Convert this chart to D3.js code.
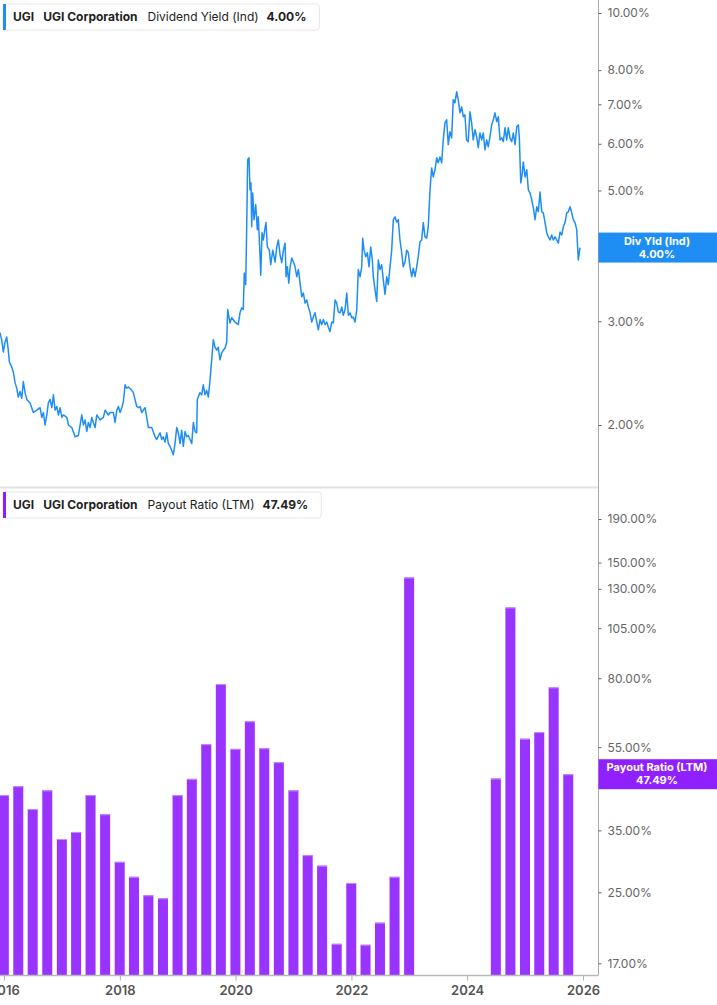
<!DOCTYPE html>
<html><head><meta charset="utf-8">
<script src="https://cdn.jsdelivr.net/npm/d3@7"></script>
<style>
html,body{margin:0;padding:0;background:#fff;}
svg{display:block;font-family:Inter,"Noto Sans",sans-serif;}
</style></head>
<body><svg id="c" width="717" height="1005"></svg>
<script>
// ---- data ----
const yieldT = [2015.931,2015.960,2015.988,2016.017,2016.047,2016.074,2016.092,2016.133,2016.161,2016.190,2016.219,2016.247,2016.276,2016.306,2016.333,2016.363,2016.392,2016.449,2016.506,2016.565,2016.622,2016.651,2016.679,2016.708,2016.738,2016.765,2016.795,2016.824,2016.852,2016.881,2016.910,2016.938,2016.967,2016.997,2017.024,2017.083,2017.111,2017.169,2017.226,2017.283,2017.342,2017.370,2017.399,2017.428,2017.456,2017.485,2017.515,2017.542,2017.572,2017.601,2017.658,2017.715,2017.745,2017.801,2017.831,2017.888,2017.917,2017.947,2017.974,2018.004,2018.033,2018.061,2018.090,2018.119,2018.147,2018.206,2018.233,2018.292,2018.320,2018.349,2018.378,2018.435,2018.465,2018.492,2018.551,2018.608,2018.637,2018.694,2018.724,2018.751,2018.781,2018.810,2018.838,2018.867,2018.924,2018.953,2018.983,2019.010,2019.040,2019.069,2019.097,2019.126,2019.156,2019.183,2019.213,2019.242,2019.270,2019.299,2019.328,2019.339,2019.385,2019.415,2019.442,2019.472,2019.501,2019.529,2019.558,2019.587,2019.615,2019.644,2019.674,2019.701,2019.731,2019.760,2019.788,2019.817,2019.846,2019.864,2019.903,2019.933,2019.990,2020.047,2020.076,2020.105,2020.133,2020.150,2020.175,2020.192,2020.209,2020.232,2020.249,2020.266,2020.278,2020.295,2020.318,2020.347,2020.375,2020.392,2020.422,2020.434,2020.456,2020.479,2020.508,2020.525,2020.548,2020.582,2020.606,2020.641,2020.681,2020.710,2020.738,2020.767,2020.796,2020.824,2020.853,2020.871,2020.893,2020.917,2020.940,2020.969,2020.997,2021.026,2021.055,2021.083,2021.112,2021.142,2021.169,2021.199,2021.228,2021.256,2021.285,2021.314,2021.342,2021.371,2021.401,2021.428,2021.458,2021.487,2021.515,2021.544,2021.573,2021.601,2021.630,2021.660,2021.687,2021.717,2021.746,2021.774,2021.803,2021.833,2021.860,2021.890,2021.919,2021.947,2021.976,2022.005,2022.033,2022.062,2022.092,2022.119,2022.149,2022.178,2022.195,2022.218,2022.247,2022.275,2022.304,2022.333,2022.361,2022.378,2022.408,2022.437,2022.465,2022.494,2022.523,2022.551,2022.580,2022.610,2022.637,2022.667,2022.696,2022.724,2022.753,2022.782,2022.810,2022.839,2022.869,2022.896,2022.926,2022.955,2022.983,2023.012,2023.042,2023.069,2023.099,2023.128,2023.155,2023.185,2023.214,2023.242,2023.271,2023.301,2023.328,2023.358,2023.387,2023.415,2023.444,2023.473,2023.501,2023.530,2023.560,2023.587,2023.617,2023.646,2023.674,2023.703,2023.732,2023.760,2023.789,2023.819,2023.846,2023.876,2023.905,2023.933,2023.962,2023.991,2024.019,2024.048,2024.078,2024.105,2024.135,2024.164,2024.192,2024.221,2024.251,2024.278,2024.307,2024.337,2024.364,2024.394,2024.423,2024.451,2024.480,2024.510,2024.537,2024.567,2024.596,2024.624,2024.653,2024.682,2024.710,2024.739,2024.769,2024.796,2024.826,2024.855,2024.883,2024.900,2024.924,2024.947,2024.969,2024.998,2025.028,2025.055,2025.085,2025.114,2025.142,2025.171,2025.200,2025.228,2025.257,2025.287,2025.314,2025.344,2025.373,2025.401,2025.430,2025.459,2025.487,2025.516,2025.546,2025.573,2025.603,2025.632,2025.660,2025.689,2025.719,2025.746,2025.776,2025.805,2025.832,2025.862,2025.891,2025.919,2025.948];
const yieldV = [2.87,2.79,2.66,2.76,2.82,2.68,2.56,2.51,2.46,2.36,2.31,2.23,2.28,2.22,2.37,2.27,2.21,2.18,2.10,2.12,2.14,2.06,2.10,2.00,2.08,2.18,2.21,2.14,2.25,2.12,2.15,2.08,2.14,2.06,2.08,2.06,2.00,1.98,1.91,1.92,2.08,2.00,2.04,1.95,2.02,1.98,2.06,2.02,1.98,2.08,2.04,2.06,2.12,2.08,2.10,2.10,2.02,2.12,2.15,2.10,2.14,2.19,2.34,2.31,2.32,2.29,2.27,2.15,2.14,2.15,2.10,2.14,2.06,1.98,1.98,1.91,1.89,1.94,1.89,1.91,1.87,1.94,1.86,1.84,1.78,1.86,1.98,1.94,1.86,1.96,1.84,1.95,1.91,1.92,1.89,1.86,2.02,1.95,1.94,2.21,2.27,2.25,2.34,2.25,2.29,2.23,2.38,2.58,2.79,2.71,2.68,2.71,2.58,2.65,2.68,2.70,2.76,3.14,2.98,3.04,2.99,2.96,3.10,3.16,3.14,3.62,3.46,4.34,5.64,5.68,5.01,5.15,4.34,4.95,4.46,4.73,4.29,4.51,3.86,3.59,4.24,4.12,4.32,4.41,4.01,3.96,3.74,3.96,3.78,4.01,4.12,3.89,3.77,3.96,4.07,3.57,3.71,3.48,3.71,3.84,3.78,3.71,3.57,3.67,3.48,3.30,3.35,3.22,3.26,3.17,3.10,2.99,3.05,3.10,2.99,2.90,3.02,2.96,3.02,2.96,2.99,2.93,2.88,2.99,2.98,3.26,3.22,3.11,3.10,3.17,3.07,3.14,3.35,3.07,3.10,3.04,3.05,2.99,3.14,3.67,3.57,3.71,4.15,3.96,3.86,3.92,3.71,4.01,3.81,3.57,3.39,3.24,3.81,3.67,3.74,3.53,3.33,3.57,3.46,3.71,3.96,4.46,4.51,4.42,4.46,4.12,3.92,3.71,3.78,3.96,3.92,3.71,3.57,3.69,3.57,3.71,3.86,4.09,4.12,4.41,4.17,4.15,4.34,5.01,5.46,5.27,5.42,5.68,5.57,5.70,5.57,6.09,6.51,6.59,5.98,6.29,6.14,7.13,7.04,7.35,7.13,6.77,6.93,6.67,6.72,6.09,6.05,6.80,6.51,6.09,6.34,6.17,5.91,6.26,6.09,6.26,5.86,6.09,5.93,6.17,6.46,6.59,6.77,6.54,6.67,6.09,6.14,6.05,6.39,6.09,6.39,6.14,6.05,6.26,5.98,6.41,6.46,6.14,5.15,5.32,5.59,5.27,5.42,5.01,4.95,4.82,4.67,4.46,4.69,4.60,4.97,4.60,4.58,4.41,4.24,4.17,4.12,4.20,4.12,4.17,4.12,4.07,4.25,4.20,4.34,4.41,4.58,4.60,4.69,4.58,4.46,4.41,4.29,3.81,4.00];

const payoutDates = ["2015-12-31","2016-03-31","2016-06-30","2016-09-30","2016-12-31","2017-03-31","2017-06-30","2017-09-30","2017-12-31","2018-03-31","2018-06-30","2018-09-30","2018-12-31","2019-03-31","2019-06-30","2019-09-30","2019-12-31","2020-03-31","2020-06-30","2020-09-30","2020-12-31","2021-03-31","2021-06-30","2021-09-30","2021-12-31","2022-03-31","2022-06-30","2022-09-30","2022-12-31","2023-03-31","2023-06-30","2023-09-30","2023-12-31","2024-03-31","2024-06-30","2024-09-30","2024-12-31","2025-03-31","2025-06-30","2025-09-30"];
const payoutV = [42.4,44.5,39.3,43.5,33.4,34.7,42.4,38.2,29.5,27.2,24.6,24.2,42.4,46.3,55.9,77.5,54.5,63.3,54.7,50.7,43.5,30.6,28.9,18.9,26.3,18.8,21.2,27.2,138.3,null,null,null,null,null,46.4,117.5,57.6,59.7,76.1,47.49];

const yieldTicks = [2,3,4,5,6,7,8,10];
const payoutTicks = [17,25,35,45,55,80,105,130,150,190];
const yearTicks = [2016,2018,2020,2022,2024,2026];

const lastYield = 4.00, lastPayout = 47.49;

// ---- layout ----
const W = 717, plotR = 598;
const topY0 = 0, topY1 = 487, botY0 = 489, botY1 = 975;
const blue = "#1e8ef5", purple = "#9933ff";

const svg = d3.select("#c");
const x = d3.scaleTime().domain([new Date(Date.UTC(2016,0,1)), new Date(Date.UTC(2026,0,1))]).range([4, 583]);
const yTop = d3.scaleLog().domain([2,10]).range([425,13]);
const yBot = d3.scaleLog().domain([17,190]).range([963.3,519]);

function decToDate(t){
  const y = Math.floor(t);
  const a = Date.UTC(y,0,1), b = Date.UTC(y+1,0,1);
  return new Date(a + (t-y)*(b-a));
}

const defs = svg.append("defs");
defs.append("clipPath").attr("id","clipTop").append("rect").attr("x",0).attr("y",topY0).attr("width",plotR).attr("height",topY1-topY0);
defs.append("clipPath").attr("id","clipBot").append("rect").attr("x",0).attr("y",botY0).attr("width",plotR).attr("height",botY1-botY0);

// separator band
svg.append("line").attr("x1",0).attr("x2",plotR).attr("y1",487.5).attr("y2",487.5).attr("stroke","#e2e2e2").attr("stroke-width",2);

// line
const lineData = yieldT.map((t,i)=>({d:decToDate(t), v:yieldV[i]}));
svg.append("g").attr("clip-path","url(#clipTop)").append("path")
  .datum(lineData)
  .attr("fill","none").attr("stroke",blue).attr("stroke-width",1.5).attr("stroke-linejoin","round")
  .attr("d", d3.line().x(d=>x(d.d)).y(d=>yTop(d.v)));

// bars
const parse = d3.utcParse("%Y-%m-%d");
const barData = payoutDates.map((s,i)=>({d:parse(s), v:payoutV[i]})).filter(d=>d.v!=null);
const bw = 10;
const gb = svg.append("g").attr("clip-path","url(#clipBot)");
gb.selectAll("rect.bar").data(barData).enter().append("rect").attr("class","bar")
  .attr("x",d=>x(d.d)-bw/2).attr("width",bw)
  .attr("y",d=>yBot(d.v)).attr("height",d=>botY1-yBot(d.v))
  .attr("fill",purple);
gb.selectAll("rect.cap").data(barData).enter().append("rect").attr("class","cap")
  .attr("x",d=>x(d.d)-bw/2).attr("width",bw)
  .attr("y",d=>yBot(d.v)).attr("height",1)
  .attr("fill","#c38cff");

// axes frame
svg.append("line").attr("x1",plotR+0.5).attr("x2",plotR+0.5).attr("y1",0).attr("y2",botY1).attr("stroke","#a8a8a8").attr("stroke-width",1);
svg.append("line").attr("x1",0).attr("x2",plotR+0.5).attr("y1",botY1+0.5).attr("y2",botY1+0.5).attr("stroke","#b8b8b8").attr("stroke-width",1.5);

const fmt = d=>d.toFixed(2)+"%";
function styleAxis(g){
  g.select(".domain").remove();
  g.selectAll(".tick line").attr("stroke","#666");
  g.selectAll(".tick text").attr("fill","#666").attr("font-size",12).attr("font-family","Inter,sans-serif");
}
svg.append("g").attr("transform",`translate(${plotR+0.5},0)`)
  .call(d3.axisRight(yTop).tickValues(yieldTicks).tickFormat(fmt).tickSize(3).tickPadding(6))
  .call(styleAxis);
svg.append("g").attr("transform",`translate(${plotR+0.5},0)`)
  .call(d3.axisRight(yBot).tickValues(payoutTicks).tickFormat(fmt).tickSize(3).tickPadding(6))
  .call(styleAxis);
const xa = svg.append("g").attr("transform",`translate(0,${botY1+0.5})`)
  .call(d3.axisBottom(x).tickValues(yearTicks.map(y=>new Date(Date.UTC(y,0,1)))).tickFormat(d3.utcFormat("%Y")).tickSize(5).tickPadding(5));
xa.select(".domain").remove();
xa.selectAll(".tick line").attr("stroke","#b0b0b0");
xa.selectAll(".tick text").attr("fill","#555").attr("font-size",13).attr("font-weight",600).attr("font-family","Inter,sans-serif");

// right value labels
function valueBox(yc, color, l1, l2){
  const g = svg.append("g");
  g.append("rect").attr("x",plotR+0.5).attr("y",yc-15).attr("width",W-plotR).attr("height",30).attr("fill",color);
  g.append("text").attr("x",657).attr("y",yc-3).attr("text-anchor","middle").attr("fill","#fff").attr("font-size",11).attr("font-weight",700).text(l1);
  g.append("text").attr("x",657).attr("y",yc+10).attr("text-anchor","middle").attr("fill","#fff").attr("font-size",11).attr("font-weight",700).text(l2);
}
valueBox(yTop(lastYield), blue, "Div Yld (Ind)", fmt(lastYield));
valueBox(yBot(lastPayout), "#9020ff", "Payout Ratio (LTM)", fmt(lastPayout));

// legends
function legend(y0, color, metric, val){
  const g = svg.append("g");
  const r = g.append("rect").attr("x",3).attr("y",y0).attr("height",26).attr("rx",3).attr("fill","#fff").attr("stroke","#e6e6e6");
  g.append("rect").attr("x",3).attr("y",y0).attr("width",3).attr("height",26).attr("fill",color);
  const t = g.append("text").attr("x",13).attr("y",y0+17).attr("font-size",12).attr("fill","#222");
  t.append("tspan").attr("font-weight",700).text("UGI");
  t.append("tspan").attr("dx",9).attr("font-weight",700).text("UGI Corporation");
  t.append("tspan").attr("dx",10).attr("font-weight",400).text(metric);
  t.append("tspan").attr("dx",8).attr("font-weight",700).text(val);
  const bb = t.node().getBBox();
  r.attr("width", bb.x + bb.width + 13 - 3);
}
legend(4, blue, "Dividend Yield (Ind)", fmt(lastYield));
legend(492, "#8f1cff", "Payout Ratio (LTM)", fmt(lastPayout));
</script></body></html>
